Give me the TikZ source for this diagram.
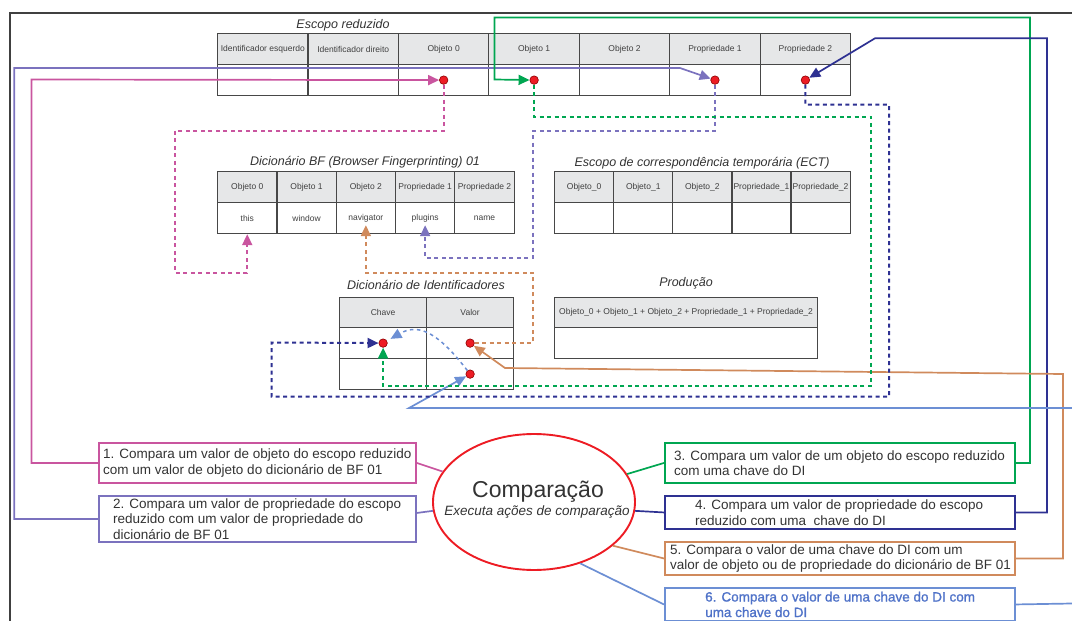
\documentclass[tikz,border=0pt]{standalone}
\usepackage{fontspec}
\setmainfont{Liberation Sans}
\newfontfamily\heavyfont{Liberation Sans}[FakeBold=1.2]
\usetikzlibrary{arrows.meta,shapes.geometric,calc}

\definecolor{gridc}{HTML}{474747}
\definecolor{headc}{HTML}{E6E7E8}
\definecolor{txtc}{HTML}{404040}
\definecolor{magc}{HTML}{C9559F}
\definecolor{purc}{HTML}{7B72BE}
\definecolor{grnc}{HTML}{00A651}
\definecolor{navc}{HTML}{2E3192}
\definecolor{orac}{HTML}{D08A5C}
\definecolor{lbc}{HTML}{6C8FD4}
\definecolor{lbtxt}{HTML}{4F72C8}
\definecolor{redc}{HTML}{ED1C24}

\begin{document}
\begin{tikzpicture}[x=1pt,y=-1pt,
  cellfont/.style={font=\fontsize{8.5}{10}\selectfont},
  hcell/.style={draw=gridc, line width=1.2pt, fill=headc, anchor=north west, inner sep=0pt, text=txtc, cellfont},
  dcell/.style={draw=gridc, line width=1.2pt, anchor=north west, inner sep=0pt, text=txtc, cellfont},
  ttl/.style={font=\fontsize{12.5}{14}\selectfont\itshape, text=black!80},
  reddot/.style={circle, fill=redc, draw=red!55!black, line width=0.6pt, minimum size=8.5pt, inner sep=0pt},
  arrowend/.style={-{Triangle[length=11pt,width=10pt]}},
  wire/.style={line width=1.7pt},
  dwire/.style={line width=2pt, dash pattern=on 4pt off 3.5pt},
  lwire/.style={line width=1.5pt, dash pattern=on 3.5pt off 3.5pt},
  cmpbox/.style={draw, line width=1.9pt, anchor=north west, inner sep=0pt},
  btext/.style={anchor=west, align=left, font=\fontsize{13.5}{15.5}\selectfont, text=black!80, inner sep=0pt},
]
\useasboundingbox (0,0) rectangle (1072,621);

% outer frame
\draw[line width=1.3pt, black!75] (10,621) -- (10,13) -- (1072,13);

% Escopo reduzido
\node[ttl] (t-er) at (343,25) {Escopo reduzido};
\foreach \t [count=\i from 0] in {Identificador esquerdo,Identificador direito,Objeto 0,Objeto 1,Objeto 2,Propriedade 1,Propriedade 2}{
  \node[hcell, minimum width=90.43pt, minimum height=31pt] (er-h\i) at ({217+\i*90.43},33) {\t};
  \node[dcell, minimum width=90.43pt, minimum height=31pt] (er-d\i) at ({217+\i*90.43},64) {};
}

% Dicionario BF
\node[ttl] (t-bf) at (365,162.5) {Dicionário BF (Browser Fingerprinting) 01};
\foreach \h/\v [count=\i from 0] in {Objeto 0/this,Objeto 1/window,Objeto 2/navigator,Propriedade 1/plugins,Propriedade 2/name}{
  \node[hcell, minimum width=59.3pt, minimum height=31pt] (bf-h\i) at ({217+\i*59.3},171) {\h};
  \node[dcell, minimum width=59.3pt, minimum height=31pt] (bf-d\i) at ({217+\i*59.3},202) {\v};
}

% ECT
\node[ttl] (t-ect) at (702,163) {Escopo de correspondência temporária (ECT)};
\foreach \h [count=\i from 0] in {Objeto\_0,Objeto\_1,Objeto\_2,Propriedade\_1,Propriedade\_2}{
  \node[hcell, minimum width=59.1pt, minimum height=31pt] (ect-h\i) at ({554+\i*59.1},171) {\h};
  \node[dcell, minimum width=59.1pt, minimum height=31pt] (ect-d\i) at ({554+\i*59.1},202) {};
}

% Dicionario de Identificadores
\node[ttl] (t-di) at (426,285) {Dicionário de Identificadores};
\node[hcell, minimum width=87pt, minimum height=30pt] (di-hk) at (339,297) {Chave};
\node[hcell, minimum width=87pt, minimum height=30pt] (di-hv) at (426,297) {Valor};
\node[dcell, minimum width=87pt, minimum height=31pt] (di-k1) at (339,327) {};
\node[dcell, minimum width=87pt, minimum height=31pt] (di-v1) at (426,327) {};
\node[dcell, minimum width=87pt, minimum height=31pt] (di-k2) at (339,358) {};
\node[dcell, minimum width=87pt, minimum height=31pt] (di-v2) at (426,358) {};

% Producao
\node[ttl] (t-pr) at (686,283) {Produção};
\node[hcell, minimum width=263pt, minimum height=30pt] (pr-h) at (554,297) {Objeto\_0 + Objeto\_1 + Objeto\_2 + Propriedade\_1 + Propriedade\_2};
\node[dcell, minimum width=263pt, minimum height=31pt] (pr-d) at (554,327) {};

% central ellipse
\node[ellipse, draw=redc, line width=1.9pt, minimum width=202pt, minimum height=136pt, inner sep=0pt] (comp) at (534,502) {};
\node[anchor=base, font=\fontsize{23}{26}\selectfont, text=black!80, inner sep=0pt] (comp-t) at (538,497) {Comparação};
\node[anchor=base, font=\fontsize{13.5}{15}\selectfont\itshape, text=black!80, inner sep=0pt] (comp-s) at (537,515) {Executa ações de comparação};

% comparison boxes
\node[cmpbox, draw=magc, minimum width=317pt, minimum height=40pt] (b1) at (98,442) {};
\node[cmpbox, draw=purc, minimum width=317pt, minimum height=46pt] (b2) at (98,495) {};
\node[cmpbox, draw=grnc, minimum width=350pt, minimum height=40pt] (b3) at (664,442) {};
\node[cmpbox, draw=navc, minimum width=350pt, minimum height=33pt] (b4) at (664,495) {};
\node[cmpbox, draw=orac, minimum width=350pt, minimum height=33pt] (b5) at (664,541) {};
\node[cmpbox, draw=lbc, minimum width=350pt, minimum height=33pt] (b6) at (664,587) {};

\node[btext] (bt1) at ([xshift=5pt]b1.west) {1. Compara um valor de objeto do escopo reduzido\\com um valor de objeto do dicionário de BF 01};
\node[btext] (bt2) at ([xshift=15pt]b2.west) {2. Compara um valor de propriedade do escopo\\reduzido com um valor de propriedade do\\dicionário de BF 01};
\node[btext] (bt3) at ([xshift=10pt]b3.west) {3. Compara um valor de um objeto do escopo reduzido\\com uma chave do DI};
\node[btext] (bt4) at ([xshift=31pt]b4.west) {4. Compara um valor de propriedade do escopo\\reduzido com uma\ \ chave do DI};
\node[btext] (bt5) at ([xshift=6pt]b5.west) {5. Compara o valor de uma chave do DI com um\\valor de objeto ou de propriedade do dicionário de BF 01};
\node[btext, text=lbtxt, font=\fontsize{13.5}{15.5}\selectfont\heavyfont] (bt6) at ([xshift=41pt]b6.west) {6. Compara o valor de uma chave do DI com\\uma chave do DI};

% red points
\node[reddot] (d-o0) at (er-d2) {};
\node[reddot] (d-o1) at (er-d3) {};
\node[reddot] (d-p1) at (er-d5) {};
\node[reddot] (d-p2) at (er-d6) {};
\node[reddot] (d-k1) at (di-k1) {};
\node[reddot] (d-v1) at (di-v1) {};
\node[reddot] (d-v2) at (di-v2) {};

% links from the ellipse to the boxes
\draw[wire, magc] (b1.east) -- (comp);
\draw[wire, purc] ([yshift=6pt]b2.east) -- (comp.185);
\draw[wire, grnc] (b3.west) -- (comp);
\draw[wire, navc] (b4.west) -- (comp.355);
\draw[wire, orac] (b5.west) -- (comp.331);
\draw[wire, lbc] (b6.west) -- (comp.307);

% solid connectors from the boxes to the tables
\draw[wire, magc, arrowend] (b1.west) -| (31.5,79.5) -- (d-o0);
\draw[wire, purc, arrowend] (b2.west) -| (14.3,68) -- (680,68) -- (d-p1);
\draw[wire, grnc, arrowend] (b3.east) -| (1030,17.5) -| (494.5,79.5) -- (d-o1);
\draw[wire, navc, arrowend] (b4.east) -| (1047,38.3) -- (875,38.3) -- (d-p2);
\draw[wire, orac, arrowend] (b5.east) -| (1063,374) -- (505,368) -- (d-v1);
\coordinate (lb-out) at (1072,603.5);
\coordinate (lb-in) at (1072,408);
\draw[wire, lbc] (b6.east) -- (lb-out);
\draw[wire, lbc, arrowend] (lb-in) -- (409,408) -- (d-v2);

% dashed comparison paths
\draw[dwire, magc, arrowend] (d-o0) |- (175,130.7) -- (175,272.7) -| (bf-d0.south);
\draw[dwire, orac, arrowend] (d-v1) -| (533,272.7) -| ([yshift=9pt]bf-d2.south);
\draw[dwire, purc, arrowend] (d-p1) |- (533,130.7) -- (533,257.7) -| ([yshift=9pt]bf-d3.south);
\draw[dwire, grnc, arrowend] (d-o1) |- (871,116.7) -- (871,386) -| (d-k1);
\draw[dwire, navc, arrowend] (d-p2) |- (889,104.7) -- (889,396.7) -| (271.7,342.5) -- (d-k1);
\draw[lwire, lbc, arrowend, shorten >=4pt] (d-v2) .. controls (440,335) and (420,322) .. (d-k1);

\end{tikzpicture}
\end{document}
